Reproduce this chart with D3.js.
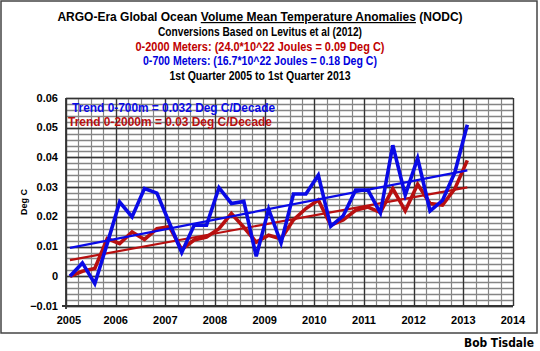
<!DOCTYPE html>
<html>
<head>
<meta charset="utf-8">
<script src="https://cdn.jsdelivr.net/npm/d3@7"></script>
<style>
    body { margin: 0; background: #fff; }
    svg text { font-family: "Liberation Sans Narrow", "Liberation Sans", sans-serif; font-weight: bold; }
</style>
</head>
<body>
<div id="chart"></div>
<script>
// quarterly anomalies, 1st quarter 2005 .. 1st quarter 2013 (Deg C)
const startYear = 2005;
const blue700 = [0, 0.0045, -0.0025, 0.011, 0.025, 0.020, 0.0295, 0.028, 0.018, 0.008,
    0.0172, 0.0172, 0.0298, 0.0245, 0.0252, 0.0067, 0.0226, 0.0112, 0.0277, 0.0277,
    0.034, 0.0168, 0.0203, 0.029, 0.029, 0.0213, 0.0441, 0.0273, 0.0397, 0.022,
    0.0255, 0.035, 0.051];
const red2000 = [0, 0.0017, 0.0026, 0.0127, 0.011, 0.0149, 0.0124, 0.016, 0.0167, 0.009,
    0.0122, 0.0132, 0.016, 0.0211, 0.0165, 0.0115, 0.0138, 0.0126, 0.019, 0.0228,
    0.0257, 0.0172, 0.019, 0.0222, 0.0233, 0.0215, 0.0295, 0.022, 0.031, 0.0245,
    0.024, 0.0295, 0.039];
const yTicks = [-0.01, 0, 0.01, 0.02, 0.03, 0.04, 0.05, 0.06];
const xTicks = [2005, 2006, 2007, 2008, 2009, 2010, 2011, 2012, 2013, 2014];
const titleParts = ["ARGO-Era Global Ocean ", "Volume Mean Temperature Anomalies", " (NODC)"];
const titleLines = [
    { text: "Conversions Based on Levitus et al  (2012)", color: "#000" },
    { text: "0-2000  Meters: (24.0*10^22  Joules = 0.09 Deg C)", color: "#c00000" },
    { text: "0-700  Meters: (16.7*10^22  Joules = 0.18  Deg C)", color: "#0000dd" },
    { text: "1st Quarter 2005  to 1st Quarter 2013", color: "#000" }
];

const width = 540, height = 351;
const blueC = "#0a0ae6", redC = "#b81010";

let svg = d3.select("#chart").append("svg")
    .attr("width", width)
    .attr("height", height);

// outer frame
svg.append("rect")
    .attr("x", 1).attr("y", 1)
    .attr("width", 536).attr("height", 332)
    .attr("fill", "#fff")
    .attr("stroke", "#444")
    .attr("stroke-width", 1.5);

let x = d3.scaleLinear().domain([2005, 2014]).range([66, 513]);
let y = d3.scaleLinear().domain([-0.01, 0.06]).range([306, 98]);

let dates = blue700.map((d, i) => startYear + 0.08 + i * 0.25);

// grid
let grid = svg.append("g");
grid.selectAll(".hminor")
    .data(d3.range(-0.01, 0.0601, 0.002))
    .enter().append("line")
    .attr("x1", x(2005)).attr("x2", x(2014))
    .attr("y1", d => Math.round(y(d)) + 0.5)
    .attr("y2", d => Math.round(y(d)) + 0.5)
    .attr("stroke", "#858585")
    .attr("stroke-width", 1.3);
grid.selectAll(".vminor")
    .data(d3.range(2005, 2014.01, 0.25))
    .enter().append("line")
    .attr("y1", y(-0.01)).attr("y2", y(0.06))
    .attr("x1", d => Math.round(x(d)) + 0.5)
    .attr("x2", d => Math.round(x(d)) + 0.5)
    .attr("stroke", "#858585")
    .attr("stroke-width", 1.2);
grid.selectAll(".hmajor")
    .data(yTicks)
    .enter().append("line")
    .attr("x1", x(2005)).attr("x2", x(2014))
    .attr("y1", d => Math.round(y(d)) + 0.5)
    .attr("y2", d => Math.round(y(d)) + 0.5)
    .attr("stroke", "#333")
    .attr("stroke-width", 1.3);
grid.selectAll(".vmajor")
    .data(xTicks)
    .enter().append("line")
    .attr("y1", y(-0.01)).attr("y2", y(0.06))
    .attr("x1", d => Math.round(x(d)) + 0.5)
    .attr("x2", d => Math.round(x(d)) + 0.5)
    .attr("stroke", "#333")
    .attr("stroke-width", 1.3);

// axis lines
svg.append("line")
    .attr("x1", x(2005)).attr("x2", x(2005))
    .attr("y1", y(-0.01) + 3).attr("y2", y(0.06))
    .attr("stroke", "#333").attr("stroke-width", 1.8);
svg.append("line")
    .attr("x1", x(2005) - 4).attr("x2", x(2014))
    .attr("y1", y(-0.01)).attr("y2", y(-0.01))
    .attr("stroke", "#333").attr("stroke-width", 1.8);

// tick labels
svg.selectAll(".ylab")
    .data(yTicks)
    .enter().append("text")
    .attr("x", 58)
    .attr("y", d => y(d) + 3.5)
    .attr("text-anchor", "end")
    .style("font-size", "11px")
    .text(d => d === 0 ? "0" : d3.format(".2f")(d));
svg.selectAll(".xlab")
    .data(xTicks)
    .enter().append("text")
    .attr("x", d => x(d) + (d === 2005 ? 3 : 0))
    .attr("y", 324)
    .attr("text-anchor", "middle")
    .style("font-size", "11px")
    .text(d => d);

svg.append("text")
    .attr("transform", "translate(27," + y(0.025) + ") rotate(-90)")
    .attr("text-anchor", "middle")
    .style("font-size", "9px")
    .text("Deg C");

// least squares trend
function trend(vals) {
    let mx = d3.mean(dates), my = d3.mean(vals);
    let num = d3.sum(dates, (d, i) => (d - mx) * (vals[i] - my));
    let den = d3.sum(dates, d => (d - mx) * (d - mx));
    let b = num / den, a = my - b * mx;
    let ends = [dates[0], dates[dates.length - 1]];
    return ends.map(d => ({ date: d, value: a + b * d }));
}

let line = d3.line()
    .x(d => x(d.date))
    .y(d => y(d.value));

function series(vals) { return vals.map((v, i) => ({ date: dates[i], value: v })); }

svg.append("path")
    .datum(trend(red2000))
    .attr("d", line)
    .attr("fill", "none").attr("stroke", redC).attr("stroke-width", 2.2);
svg.append("path")
    .datum(series(red2000))
    .attr("d", line)
    .attr("fill", "none").attr("stroke", redC).attr("stroke-width", 3.6)
    .attr("stroke-linejoin", "miter");
svg.append("path")
    .datum(trend(blue700))
    .attr("d", line)
    .attr("fill", "none").attr("stroke", blueC).attr("stroke-width", 2.2);
svg.append("path")
    .datum(series(blue700))
    .attr("d", line)
    .attr("fill", "none").attr("stroke", blueC).attr("stroke-width", 3.6)
    .attr("stroke-linejoin", "miter");

// legend text inside plot
svg.append("text")
    .attr("x", 72).attr("y", 112)
    .attr("textLength", 203).attr("lengthAdjust", "spacingAndGlyphs")
    .style("font-size", "13px").style("fill", blueC)
    .text("Trend 0-700m = 0.032 Deg C/Decade");
svg.append("text")
    .attr("x", 68).attr("y", 126)
    .attr("textLength", 204).attr("lengthAdjust", "spacingAndGlyphs")
    .style("font-size", "13px").style("fill", redC)
    .text("Trend 0-2000m = 0.03 Deg C/Decade");

// title first line, middle part underlined
let t1 = svg.append("text")
    .attr("x", 260).attr("y", 21)
    .attr("text-anchor", "middle")
    .style("font-size", "12px");
t1.selectAll("tspan")
    .data(titleParts)
    .enter().append("tspan")
    .style("text-decoration", (d, i) => i === 1 ? "underline" : "none")
    .style("white-space", "pre")
    .text(d => d);

let lens = [204, 249, 234, 181];
svg.selectAll(".sub")
    .data(titleLines)
    .enter().append("text")
    .attr("x", 260)
    .attr("y", (d, i) => 36 + i * 14.5)
    .attr("text-anchor", "middle")
    .attr("textLength", (d, i) => lens[i])
    .attr("lengthAdjust", "spacingAndGlyphs")
    .style("font-size", "12.5px")
    .style("fill", d => d.color)
    .text(d => d.text);

svg.append("text")
    .attr("transform", "translate(464,347) scale(1,1.25)")
    .attr("textLength", 70).attr("lengthAdjust", "spacingAndGlyphs")
    .style("font-family", "'DejaVu Sans', sans-serif")
    .style("font-size", "10.5px")
    .style("font-weight", "900")
    .text("Bob Tisdale");
</script>
</body>
</html>
